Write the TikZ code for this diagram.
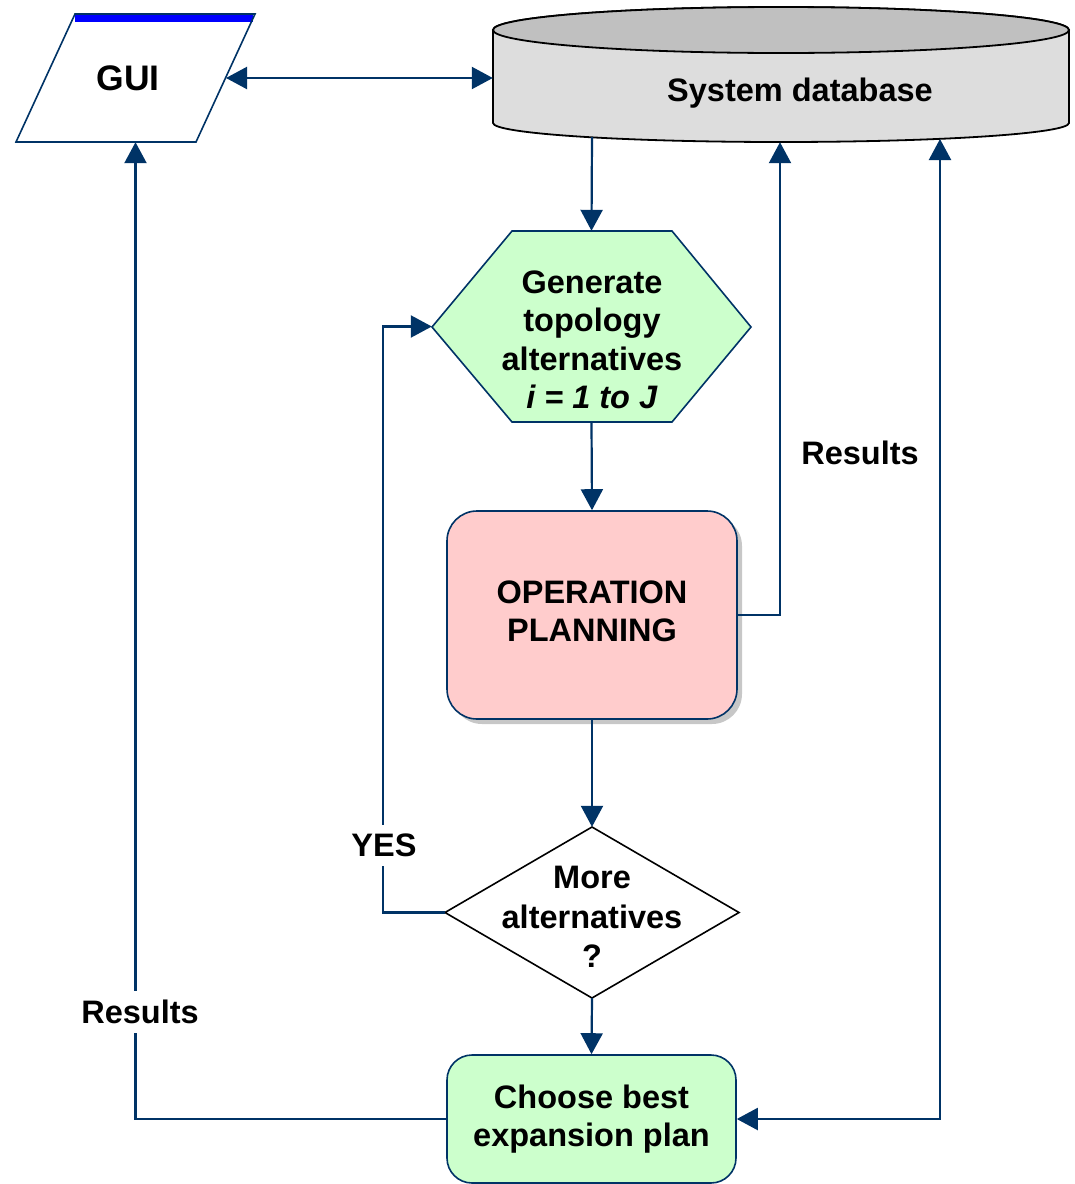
\documentclass[tikz,border=0pt]{standalone}
\usepackage{fontspec}
\setmainfont{Liberation Sans}
\usetikzlibrary{arrows.meta,shadows,calc}
\definecolor{navy}{HTML}{003366}
\definecolor{lgreen}{HTML}{CCFFCC}
\definecolor{lpink}{HTML}{FFCCCC}
\definecolor{dbbody}{HTML}{DDDDDD}
\definecolor{dbtop}{HTML}{C0C0C0}
\definecolor{guiblue}{HTML}{0000FF}
\begin{document}
\begin{tikzpicture}[x=1pt,y=-1pt,
  txt/.style={font=\bfseries\fontsize{32.5}{38.5}\selectfont, align=center, inner sep=0pt},
  box/.style={draw=none, inner sep=0pt, minimum width=#1},
  shapeline/.style={draw=navy, line width=1.6pt},
  conn/.style={draw=navy, line width=2.2pt, -{Triangle[length=21pt,width=22pt]}},
  biconn/.style={draw=navy, line width=2.2pt, {Triangle[length=21pt,width=22pt]}-{Triangle[length=21pt,width=22pt]}},
  lbl/.style={txt, fill=white, inner xsep=3pt, inner ysep=9pt},
  roundbox/.style={shapeline, align=center, inner sep=0pt, font=\bfseries\fontsize{32.5}{38.5}\selectfont},
]
\useasboundingbox (0,0) rectangle (1075,1184);

% ---------- GUI parallelogram ----------
\fill[guiblue] (75,14) rectangle (253,22);
\draw[shapeline] (75,14) -- (255,14) -- (196,142) -- (16,142) -- cycle;
\node[box=239pt, minimum height=128pt] (gui) at (135.5,78) {};
\node[txt, font=\bfseries\fontsize{35.5}{40}\selectfont] (guitxt) at (128,78) {GUI};
\coordinate (guiR) at (226,78);

% ---------- System database cylinder ----------
\draw[black, line width=1.8pt, fill=dbbody]
  (493,30) -- (493,123) arc[start angle=180, end angle=0, x radius=288, y radius=19]
  -- (1069,30) arc[start angle=0, end angle=-180, x radius=288, y radius=23] -- cycle;
\draw[black, line width=1.8pt, fill=dbtop] (781,30) ellipse [x radius=288, y radius=23];
\node[box=576pt, minimum height=135pt] (db) at (781,74.5) {};
\node[txt] (dbtxt) at (800,93) {System database};
\coordinate (dbA) at (592,137);
\coordinate (dbB) at (940,139);

% ---------- Hexagon ----------
\draw[shapeline, fill=lgreen] (512,231) -- (672,231) -- (751,327) -- (672,422) -- (512,422) -- (432,327) -- cycle;
\node[box=319pt, minimum height=191pt] (gen) at (591.5,326.5) {};
\node[txt] (gentxt) at (592,340) {Generate\\topology\\alternatives\\\textit{i = 1 to J}};

% ---------- Operation planning ----------
\node[roundbox, fill=lpink, rounded corners=30pt, minimum width=290pt, minimum height=208pt,
  drop shadow={shadow xshift=5pt, shadow yshift=-5pt, fill=black!22, opacity=1}]
  (op) at (592,615) {};
\node[txt] (optxt) at (592,611.5) {OPERATION\\PLANNING};

% ---------- Diamond ----------
\draw[black, line width=1.6pt, fill=white] (592,827) -- (739,912.5) -- (592,998) -- (445,912.5) -- cycle;
\node[box=294pt, minimum height=171pt] (dia) at (592,912.5) {};
\node[txt, font=\bfseries\fontsize{32.5}{39.5}\selectfont] (diatxt) at (592,917) {More\\alternatives\\?};

% ---------- Choose best ----------
\node[roundbox, fill=lgreen, rounded corners=25pt, minimum width=289pt, minimum height=128pt]
  (choose) at (591.5,1119) {Choose best\\expansion plan};

% ---------- Connectors ----------
\draw[biconn] (guiR) -- (db.west |- guiR);
\draw[conn] (dbA) -- (gen.north);
\draw[conn] (gen.south) -- (op.north);
\coordinate (r1) at (780,615);
\draw[conn] (op.east) -- (r1) -- (r1 |- db.south);
\draw[conn] (op.south) -- (dia.north);
\coordinate (yb) at (383,912.5);
\draw[conn] (dia.west) -- (yb) |- (gen.west);
\draw[conn] (dia.south) -- (choose.north);
\coordinate (lb) at (135.5,1119);
\draw[conn] (choose.west) -- (lb) -- (gui.south);
\coordinate (rb) at (940,1119);
\draw[biconn] (choose.east) -- (rb) -- (dbB);

% ---------- Labels ----------
\node[lbl] (yes) at (384,845) {YES};
\node[lbl] (resL) at (140,1012) {Results};
\node[txt] (resR) at (860,453) {Results};
\end{tikzpicture}
\end{document}
